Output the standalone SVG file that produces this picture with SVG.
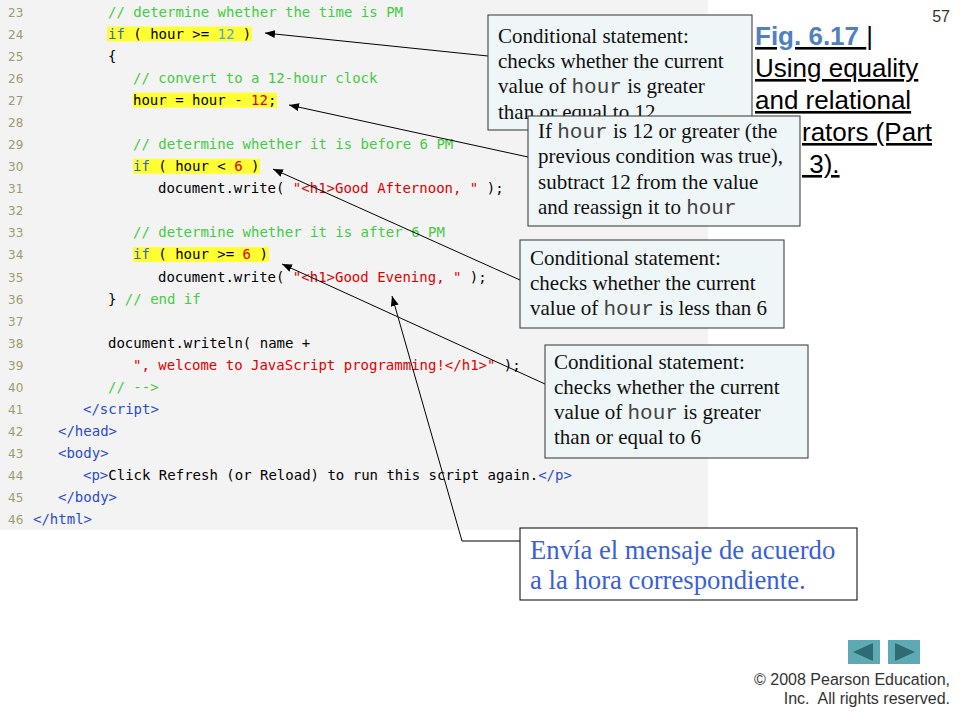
<svg xmlns="http://www.w3.org/2000/svg" width="960" height="720" viewBox="0 0 960 720">
<style>
.code{font-family:"DejaVu Sans Mono","Liberation Mono",monospace;font-size:14px;fill:#000}
.ln{font-family:"DejaVu Sans","Liberation Sans",sans-serif;font-size:12px;fill:#9c9c70}
.cm{fill:#44cc44}
.kw{fill:#3366cc}
.st{fill:#dd0000}
.tg{fill:#2a4bd0}
.nb{fill:#44aadd}
.hl{fill:#ffff33}
.box{fill:#eff6f7;stroke:#333;stroke-width:1}
.ct{font-family:"Liberation Serif","Times New Roman",serif;font-size:21px;fill:#111}
.mono{font-family:"Liberation Mono","Courier New",monospace;fill:#444}
.conn{fill:none;stroke:#000;stroke-width:1}
.title{font-family:"Liberation Sans",Arial,sans-serif;font-size:26px;fill:#000;text-decoration:underline}
.foot{font-family:"Liberation Sans",Arial,sans-serif;font-size:16px;fill:#333}
</style>
<defs>
<marker id="arr" markerUnits="userSpaceOnUse" markerWidth="11" markerHeight="9" refX="10" refY="4" orient="auto">
<path d="M0,0 L10,4 L0,8 z" fill="#000"/>
</marker>
</defs>
<rect x="0" y="0" width="960" height="720" fill="#fff"/>
<g id="code-listing" xml:space="preserve">
<rect x="0" y="0" width="708" height="530" fill="#f3f3f3"/>
<rect class="hl" x="107" y="26.5" width="145" height="15"/>
<rect class="hl" x="133" y="92.7" width="144" height="15"/>
<rect class="hl" x="133" y="158.8" width="127" height="15"/>
<rect class="hl" x="133" y="247" width="136" height="15"/>
<text class="ln" x="8" y="17">23</text>
<text class="ln" x="8" y="39">24</text>
<text class="ln" x="8" y="61.1">25</text>
<text class="ln" x="8" y="83.1">26</text>
<text class="ln" x="8" y="105.2">27</text>
<text class="ln" x="8" y="127.2">28</text>
<text class="ln" x="8" y="149.2">29</text>
<text class="ln" x="8" y="171.3">30</text>
<text class="ln" x="8" y="193.3">31</text>
<text class="ln" x="8" y="215.4">32</text>
<text class="ln" x="8" y="237.4">33</text>
<text class="ln" x="8" y="259.4">34</text>
<text class="ln" x="8" y="281.5">35</text>
<text class="ln" x="8" y="303.5">36</text>
<text class="ln" x="8" y="325.6">37</text>
<text class="ln" x="8" y="347.6">38</text>
<text class="ln" x="8" y="369.6">39</text>
<text class="ln" x="8" y="391.7">40</text>
<text class="ln" x="8" y="413.7">41</text>
<text class="ln" x="8" y="435.8">42</text>
<text class="ln" x="8" y="457.8">43</text>
<text class="ln" x="8" y="479.8">44</text>
<text class="ln" x="8" y="501.9">45</text>
<text class="ln" x="8" y="523.9">46</text>
<text class="code cm" x="108" y="17">// determine whether the time is PM</text>
<text class="code" x="108" y="39"><tspan class="kw">if</tspan> ( hour &gt;= <tspan class="nb">12</tspan> )</text>
<text class="code" x="108" y="61.1">{</text>
<text class="code cm" x="133" y="83.1">// convert to a 12-hour clock</text>
<text class="code" x="133" y="105.2">hour = hour - <tspan class="st">12</tspan>;</text>
<text class="code cm" x="133" y="149.2">// determine whether it is before 6 PM</text>
<text class="code" x="133" y="171.3"><tspan class="kw">if</tspan> ( hour &lt; <tspan class="st">6</tspan> )</text>
<text class="code" x="158" y="193.3">document.write( <tspan class="st">"&lt;h1&gt;Good Afternoon, "</tspan> );</text>
<text class="code cm" x="133" y="237.4">// determine whether it is after 6 PM</text>
<text class="code" x="133" y="259.4"><tspan class="kw">if</tspan> ( hour &gt;= <tspan class="st">6</tspan> )</text>
<text class="code" x="158" y="281.5">document.write( <tspan class="st">"&lt;h1&gt;Good Evening, "</tspan> );</text>
<text class="code" x="108" y="303.5">} <tspan class="cm">// end if</tspan></text>
<text class="code" x="108" y="347.6">document.writeln( name +</text>
<text class="code" x="133" y="369.6"><tspan class="st">", welcome to JavaScript programming!&lt;/h1&gt;"</tspan> );</text>
<text class="code cm" x="108" y="391.7">// --&gt;</text>
<text class="code tg" x="83" y="413.7">&lt;/script&gt;</text>
<text class="code tg" x="58" y="435.8">&lt;/head&gt;</text>
<text class="code tg" x="58" y="457.8">&lt;body&gt;</text>
<text class="code" x="83" y="479.8"><tspan class="tg">&lt;p&gt;</tspan>Click Refresh (or Reload) to run this script again.<tspan class="tg">&lt;/p&gt;</tspan></text>
<text class="code tg" x="58" y="501.9">&lt;/body&gt;</text>
<text class="code tg" x="33" y="523.9">&lt;/html&gt;</text>
</g>
<g id="title">
<text class="title" x="755" y="45"><tspan font-weight="bold" fill="#4f81bd">Fig. 6.17 </tspan>|</text>
<text class="title" x="755" y="77">Using equality</text>
<text class="title" x="755" y="109">and relational</text>
<text class="title" x="802" y="141">rators (Part</text>
<text class="title" x="802" y="173" xml:space="preserve"> 3).</text>
</g>
<g id="page-number">
<text class="foot" x="950" y="22" text-anchor="end" font-size="16.5" fill="#222">57</text>
</g>
<g id="connectors">
<line class="conn" x1="488" y1="56" x2="265" y2="33" marker-end="url(#arr)"/>
<line class="conn" x1="528" y1="157" x2="289" y2="105" marker-end="url(#arr)"/>
<line class="conn" x1="520" y1="280" x2="273" y2="169" marker-end="url(#arr)"/>
<line class="conn" x1="545" y1="384" x2="282" y2="264" marker-end="url(#arr)"/>
<polyline class="conn" points="520,541 462,541 392,296" marker-end="url(#arr)"/>
</g>
<g id="note-if-ge-12">
<rect class="box" x="488" y="15" width="264" height="115"/>
<text class="ct" x="498" y="43">Conditional statement:</text>
<text class="ct" x="498" y="68">checks whether the current</text>
<text class="ct" x="498" y="93" xml:space="preserve">value of <tspan class="mono">hour</tspan> is greater</text>
<text class="ct" x="498" y="119">than or equal to 12</text>
</g>
<g id="note-subtract-12">
<rect class="box" x="528" y="116" width="272" height="110"/>
<text class="ct" x="538" y="138" xml:space="preserve">If <tspan class="mono">hour</tspan> is 12 or greater (the</text>
<text class="ct" x="538" y="163">previous condition was true),</text>
<text class="ct" x="538" y="189">subtract 12 from the value</text>
<text class="ct" x="538" y="214" xml:space="preserve">and reassign it to <tspan class="mono">hour</tspan></text>
</g>
<g id="note-if-lt-6">
<rect class="box" x="520" y="240" width="264" height="88"/>
<text class="ct" x="530" y="265">Conditional statement:</text>
<text class="ct" x="530" y="290">checks whether the current</text>
<text class="ct" x="530" y="315" xml:space="preserve">value of <tspan class="mono">hour</tspan> is less than 6</text>
</g>
<g id="note-if-ge-6">
<rect class="box" x="545" y="345" width="263" height="113"/>
<text class="ct" x="554" y="369">Conditional statement:</text>
<text class="ct" x="554" y="394">checks whether the current</text>
<text class="ct" x="554" y="419" xml:space="preserve">value of <tspan class="mono">hour</tspan> is greater</text>
<text class="ct" x="554" y="444">than or equal to 6</text>
</g>
<g id="note-message">
<rect x="520" y="528" width="337" height="72" fill="#fff" stroke="#000" stroke-width="1"/>
<text x="530" y="559" font-family="Liberation Serif,Times New Roman,serif" font-size="26.7" fill="#3a5fd9">Envía el mensaje de acuerdo</text>
<text x="530" y="589" font-family="Liberation Serif,Times New Roman,serif" font-size="26.7" fill="#3a5fd9">a la hora correspondiente.</text>
</g>
<g id="nav">
<rect x="848" y="640" width="32" height="24" fill="#5eaab4"/>
<path d="M853,652 L873,643 L873,661 z" fill="#2e6b73"/>
<rect x="888" y="640" width="32" height="24" fill="#5eaab4"/>
<path d="M915,652 L895,643 L895,661 z" fill="#2e6b73"/>
</g>
<g id="copyright">
<text class="foot" x="950" y="685" text-anchor="end">© 2008 Pearson Education,</text>
<text class="foot" x="950" y="704" text-anchor="end" xml:space="preserve">Inc.  All rights reserved.</text>
</g>
</svg>
